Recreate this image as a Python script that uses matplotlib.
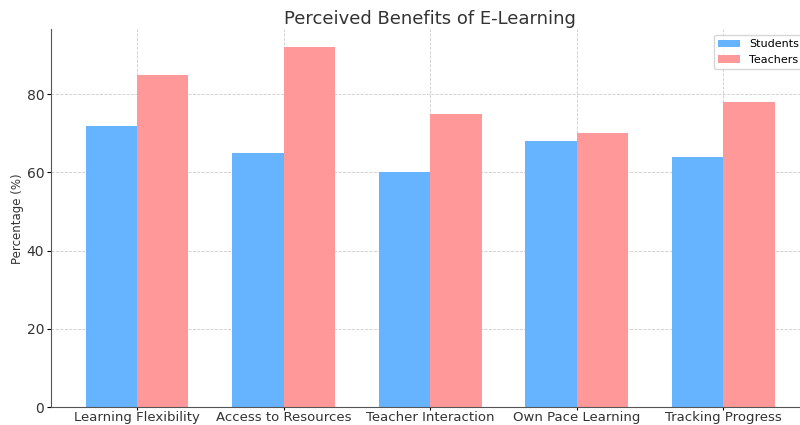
import numpy as np
import matplotlib.pyplot as plt

categories = ['Learning Flexibility', 'Access to Resources', 'Teacher Interaction',
              'Own Pace Learning', 'Tracking Progress']
students = [72, 65, 60, 68, 64]
teachers = [85, 92, 75, 70, 78]

fig = plt.figure(figsize=(8, 4.25), dpi=100)
ax = fig.add_axes([0.064, 0.042, 0.9475, 0.889])

x = np.arange(len(categories))
w = 0.35
ax.bar(x - w/2, students, w, label='Students', color='#66b3ff')
ax.bar(x + w/2, teachers, w, label='Teachers', color='#ff9999')

ax.set_xticks(x)
ax.set_xticklabels(categories, fontsize=9.5, color='#333333')
ax.tick_params(axis='x', length=2, pad=1)
ax.tick_params(axis='y', labelsize=10, labelcolor='#333333', length=3, pad=2)
ax.set_ylabel('Percentage (%)', fontsize=8.5, color='#333333', labelpad=2)
ax.set_title('Perceived Benefits of E-Learning', fontsize=13, color='#333333', pad=4)
ax.grid(True, linestyle='--', linewidth=0.6, color='#cccccc')
ax.set_axisbelow(True)
for s in ['top', 'right']:
    ax.spines[s].set_visible(False)
for s in ['left', 'bottom']:
    ax.spines[s].set_color('#555555')
ax.legend(loc='upper right', fontsize=8)

fig.savefig('out.png', dpi=100)
